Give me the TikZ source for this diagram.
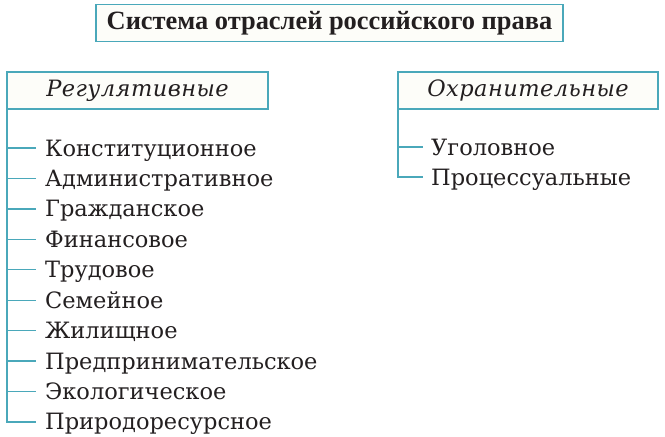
\documentclass[tikz,border=0pt]{standalone}
\usepackage{fontspec}
\setmainfont{DejaVu Serif}
\newfontfamily\headfont{Liberation Serif}
\definecolor{rule}{RGB}{74,168,186}
\definecolor{paper}{RGB}{253,253,249}
\definecolor{ink}{RGB}{35,31,32}

\begin{document}
\begin{tikzpicture}[x=1pt,y=-1pt,text=ink,
    box/.style={draw=rule,line width=1.6pt,fill=paper,minimum height=37pt,
      inner sep=0pt,outer sep=0pt},
    kind/.style={box,font=\itshape\fontsize{22.5}{26}\selectfont\addfontfeature{LetterSpace=2}},
    branch/.style={anchor=west,inner sep=0pt,text height=16pt,text depth=0pt,
      font=\fontsize{22.5}{26}\selectfont},
    tie/.style={draw=rule,line width=1.4pt}]
  \useasboundingbox (0,0) rectangle (665,437);
  \node[box,minimum width=467pt,font=\headfont\bfseries\fontsize{26.4}{30}\selectfont]
    (sys) at (329.5,23) {Система отраслей российского права};
  \node[kind,minimum width=261pt] (reg) at (137.5,90.5) {Регулятивные};
  \node[kind,minimum width=260pt] (okh) at (528,90.5) {Охранительные};
  % regulative branches
  \foreach \t [count=\i] in {Конституционное,Административное,Гражданское,
      Финансовое,Трудовое,Семейное,Жилищное,Предпринимательское,Экологическое,
      Природоресурсное} {
    \node[branch] (reg\i) at (45,{148+30.44*(\i-1)}) {\t};
    \draw[tie] (reg.south west) |- ([xshift=-9pt]reg\i.west);
  }
  % protective branches
  \foreach \t [count=\i] in {Уголовное,Процессуальные} {
    \node[branch] (okh\i) at (431,{147+30*(\i-1)}) {\t};
    \draw[tie] (okh.south west) |- ([xshift=-8pt]okh\i.west);
  }
\end{tikzpicture}
\end{document}
